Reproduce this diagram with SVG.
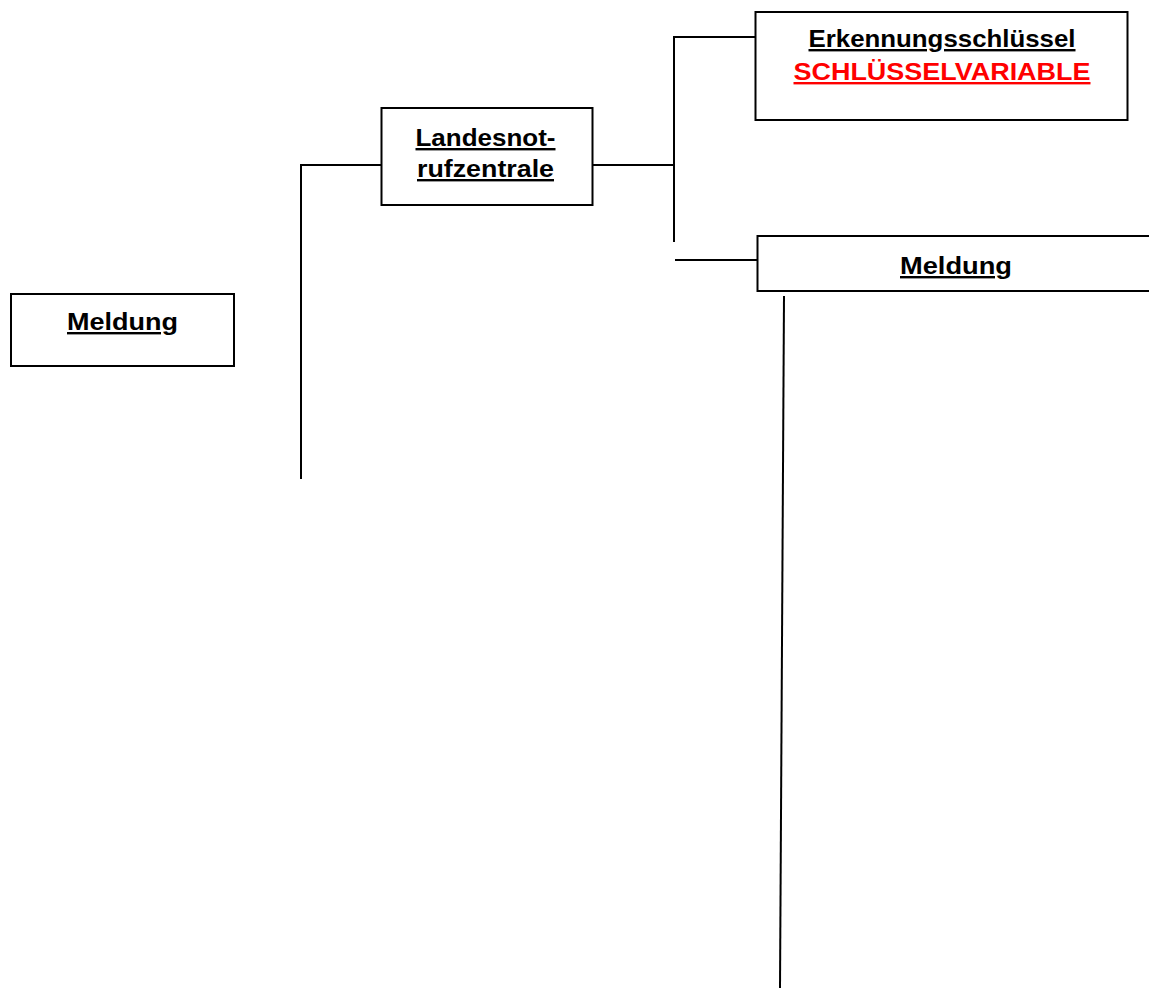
<svg xmlns="http://www.w3.org/2000/svg" width="1149" height="988" viewBox="0 0 1149 988">
<style>
.box{fill:#fff;stroke:#000;stroke-width:2}
.con{stroke:#000;stroke-width:2;fill:none}
.t{font-family:"Liberation Sans",Arial,sans-serif;font-size:24px;font-weight:bold;text-anchor:middle;text-decoration:underline;fill:#000}
.r{fill:#ff0000}
</style>
<rect width="1149" height="988" fill="#fff"/>
<g id="connectors">
<polyline class="con" points="301,479 301,165 381,165"/>
<line class="con" x1="593" y1="165" x2="674" y2="165"/>
<polyline class="con" points="674,242 674,37 755,37"/>
<line class="con" x1="675" y1="260" x2="757" y2="260"/>
<line class="con" x1="784" y1="296" x2="780" y2="988"/>
</g>
<g id="meldung1">
<rect class="box" x="11" y="294" width="223" height="72"/>
<text class="t" x="122.5" y="330" textLength="111" lengthAdjust="spacingAndGlyphs">Meldung</text>
</g>
<g id="landesnotrufzentrale">
<rect class="box" x="381.5" y="108" width="211" height="97"/>
<text class="t" x="485.5" y="146" textLength="140" lengthAdjust="spacingAndGlyphs">Landesnot-</text>
<text class="t" x="485.5" y="177" textLength="137" lengthAdjust="spacingAndGlyphs">rufzentrale</text>
</g>
<g id="erkennungsschluessel">
<rect class="box" x="755.5" y="12" width="372" height="108"/>
<text class="t" x="942" y="47" textLength="267" lengthAdjust="spacingAndGlyphs">Erkennungsschlüssel</text>
<text class="t r" x="942" y="80" textLength="297" lengthAdjust="spacingAndGlyphs">SCHLÜSSELVARIABLE</text>
</g>
<g id="meldung2">
<rect class="box" x="757.5" y="236" width="400" height="55"/>
<text class="t" x="956" y="274" textLength="112" lengthAdjust="spacingAndGlyphs">Meldung</text>
</g>
</svg>
